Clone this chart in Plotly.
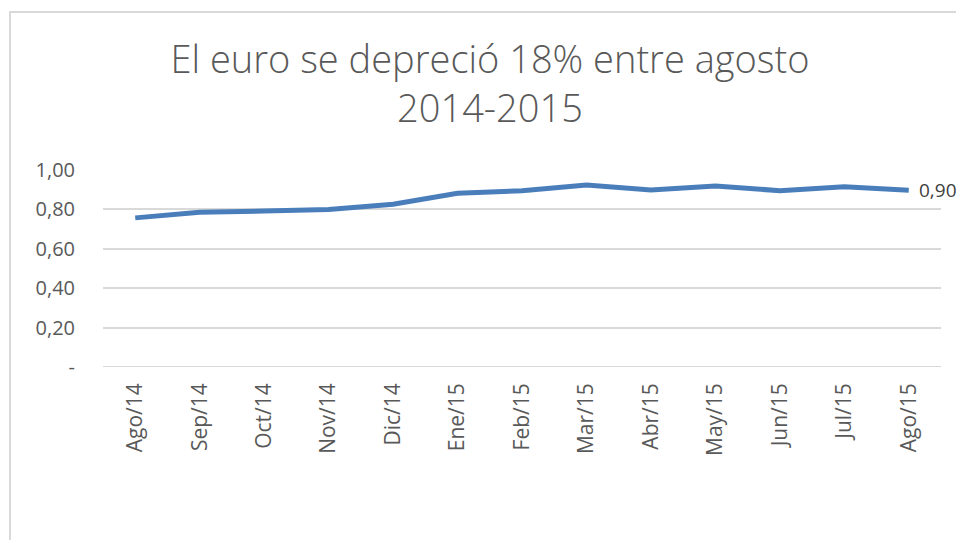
import plotly.graph_objects as go

months = ["Ago/14", "Sep/14", "Oct/14", "Nov/14", "Dic/14", "Ene/15", "Feb/15",
          "Mar/15", "Abr/15", "May/15", "Jun/15", "Jul/15", "Ago/15"]
euro_values = [0.757, 0.786, 0.792, 0.800, 0.826, 0.882, 0.895,
               0.924, 0.898, 0.919, 0.895, 0.915, 0.897]
y_tickvals = [0, 0.2, 0.4, 0.6, 0.8, 1.0]
y_ticktext = ["-", "0,20", "0,40", "0,60", "0,80", "1,00"]
title_text = "El euro se depreció 18% entre agosto<br>2014-2015"

W, H = 956, 540
L, R, T, B = 103, 15, 170, 173
pw, ph = W - L - R, H - T - B

fig = go.Figure()
fig.add_trace(go.Scatter(
    x=months, y=euro_values, mode="lines",
    line=dict(color="#4a7ebb", width=5),
    hoverinfo="skip", showlegend=False,
))

last_label = f"{euro_values[-1]:.2f}".replace(".", ",")
fig.add_annotation(x=months[-1], y=euro_values[-1], xref="x", yref="y",
                   text=last_label, showarrow=False, xanchor="left", yanchor="middle",
                   xshift=8, font=dict(family="Open Sans", size=19, color="#404040"))

# chart border
fig.add_shape(type="rect", xref="paper", yref="paper",
              x0=(10 - L) / pw, x1=(W + 20 - L) / pw,
              y0=-(H + 20 - (H - B)) / ph, y1=((H - B) - 12) / ph,
              line=dict(color="#d9d9d9", width=2), fillcolor="rgba(0,0,0,0)", layer="below")

fig.update_layout(
    width=W, height=H,
    margin=dict(l=L, r=R, t=T, b=B),
    paper_bgcolor="white", plot_bgcolor="white",
    title=dict(text=title_text, x=490 / W, xref="container", xanchor="center",
               y=1 - 73 / H, yref="container", yanchor="middle",
               font=dict(family="Open Sans", size=38, color="#595959", weight=300)),
    xaxis=dict(type="category", range=[-0.5, len(months) - 0.5],
               showgrid=False, showline=False, zeroline=False,
               tickangle=-90, ticks="", ticklabelstandoff=11,
               tickfont=dict(family="Open Sans", size=21, color="#595959")),
    yaxis=dict(range=[0, 1.0], tickvals=y_tickvals, ticktext=y_ticktext,
               showgrid=True, gridcolor="#d9d9d9", gridwidth=2,
               zeroline=False, showline=False, ticks="",
               ticklabelstandoff=27,
               tickfont=dict(family="Open Sans", size=20, color="#595959")),
)
fig.add_shape(type="line", xref="paper", yref="y", x0=0, x1=1, y0=0, y1=0,
              line=dict(color="#d9d9d9", width=2), layer="below")

fig.write_html("out.html", config={"displayModeBar": False},
               post_script="document.body.style.margin='0';")
